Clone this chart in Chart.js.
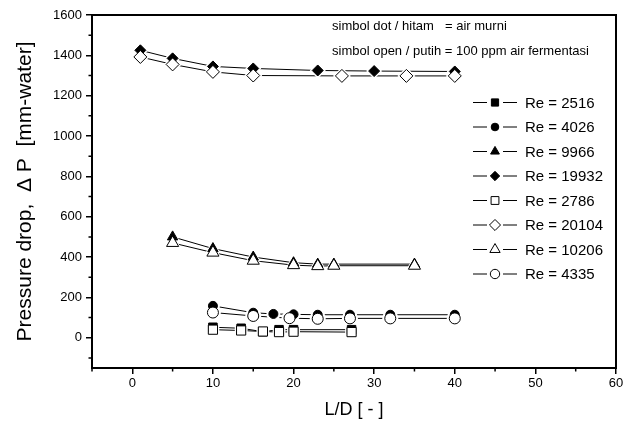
<!DOCTYPE html>
<html>
<head>
<meta charset="utf-8">
<script src="https://cdn.jsdelivr.net/npm/chart.js@4"></script>
<style>body{margin:0;background:#fff}</style>
</head>
<body>
<canvas id="c" width="633" height="425"></canvas>
<script>
// sumbu
const xTicks = [0, 10, 20, 30, 40, 50, 60];
const xMinor = [-5, 5, 15, 25, 35, 45, 55];
const yTicks = [0, 200, 400, 600, 800, 1000, 1200, 1400, 1600];
const yMinor = [-100, 100, 300, 500, 700, 900, 1100, 1300, 1500];

// data [L/D, delta P]
const re2516 = [[10, 52], [13.5, 47], [16.2, 30], [18.2, 40], [20, 40], [27.2, 40]];
const re4026 = [[10, 158], [15, 124], [17.5, 118], [20, 116], [23, 114], [27, 114], [32, 114], [40, 114]];
const re9966 = [[5, 500], [10, 442], [15, 400], [20, 372], [23, 365], [25, 365], [35, 365]];
const re19932 = [[1, 1425], [5, 1385], [10, 1345], [15, 1335], [23, 1325], [30, 1322], [40, 1320]];
const re2786 = [[10, 40], [13.5, 36], [16.2, 31], [18.2, 28], [20, 30], [27.2, 28]];
const re20104 = [[1, 1392], [5, 1355], [10, 1318], [15, 1300], [26, 1298], [34, 1298], [40, 1298]];
const re10206 = [[5, 470], [10, 422], [15, 382], [20, 360], [23, 355], [25, 357], [35, 357]];
const re4335 = [[10, 125], [15, 108], [19.5, 97], [23, 94], [27, 96], [32, 96], [40, 96]];

const FONT = "'Liberation Sans', Arial, sans-serif";
Chart.defaults.font.family = FONT;
Chart.defaults.color = '#000';

const pts = a => a.map(([x, y]) => ({ x, y }));

// urutan legenda
const series = [
  { label: 'Re = 2516', data: re2516, style: 'rect', filled: true, r: 6 },
  { label: 'Re = 4026', data: re4026, style: 'circle', filled: true, r: 4.5 },
  { label: 'Re = 9966', data: re9966, style: 'triangle', filled: true, r: 6 },
  { label: 'Re = 19932', data: re19932, style: 'rectRot', filled: true, r: 5.5 },
  { label: 'Re = 2786', data: re2786, style: 'rect', filled: false, r: 6.5 },
  { label: 'Re = 20104', data: re20104, style: 'rectRot', filled: false, r: 6.5 },
  { label: 'Re = 10206', data: re10206, style: 'triangle', filled: false, r: 7 },
  { label: 'Re = 4335', data: re4335, style: 'circle', filled: false, r: 5.5 }
];

// lapisan: semua garis, celah putih, simbol hitam, lalu simbol open di atas
const datasets = [];
series.forEach(s => {
  datasets.push({
    label: s.label, data: pts(s.data), showLine: true,
    borderColor: '#000', borderWidth: 1, pointRadius: 0, pointHoverRadius: 0,
    order: 4
  });
  datasets.push({
    label: s.label, data: pts(s.data), showLine: false,
    pointStyle: s.style, pointRadius: s.r + 2.5, pointHoverRadius: s.r + 2.5,
    pointBackgroundColor: '#fff', pointBorderWidth: 0, pointBorderColor: '#fff',
    order: 3
  });
  datasets.push({
    label: s.label, data: pts(s.data), showLine: false,
    pointStyle: s.style, pointRadius: s.r, pointHoverRadius: s.r,
    pointBackgroundColor: s.filled ? '#000' : '#fff',
    pointBorderColor: '#000', pointBorderWidth: 1,
    order: s.filled ? 2 : 1
  });
});

const extras = {
  id: 'extras',
  afterDraw(chart) {
    const { ctx, chartArea: a, scales: { x, y } } = chart;
    ctx.save();
    ctx.strokeStyle = '#000';
    ctx.lineWidth = 2;
    ctx.strokeRect(a.left, a.top, a.right - a.left, a.bottom - a.top);

    // minor ticks
    ctx.lineWidth = 1.5;
    ctx.beginPath();
    xMinor.forEach(v => {
      const px = x.getPixelForValue(v);
      ctx.moveTo(px, a.bottom); ctx.lineTo(px, a.bottom + 3.5);
    });
    yMinor.forEach(v => {
      const py = y.getPixelForValue(v);
      ctx.moveTo(a.left, py); ctx.lineTo(a.left - 3.5, py);
    });
    ctx.stroke();

    // keterangan simbol
    ctx.fillStyle = '#000';
    ctx.font = '13px ' + FONT;
    ctx.textBaseline = 'alphabetic';
    ctx.fillText('simbol dot / hitam', 332, 30);
    ctx.fillText('= air murni', 445, 30);
    ctx.fillText('simbol open / putih = 100 ppm air fermentasi', 332, 54.5);

    // legenda
    ctx.font = '15px ' + FONT;
    ctx.textBaseline = 'middle';
    series.forEach((s, i) => {
      const ly = 102.5 + i * 24.5;
      ctx.lineWidth = 1;
      ctx.strokeStyle = '#000';
      ctx.beginPath();
      ctx.moveTo(473, ly); ctx.lineTo(487, ly);
      ctx.moveTo(503, ly); ctx.lineTo(517, ly);
      ctx.stroke();
      ctx.fillStyle = s.filled ? '#000' : '#fff';
      Chart.helpers.drawPoint(ctx, {
        pointStyle: s.style, radius: s.r * 0.85, rotation: 0, borderWidth: 1
      }, 495, ly);
      ctx.fillStyle = '#000';
      ctx.fillText(s.label, 525, ly + 1);
    });
    ctx.restore();
  }
};

new Chart(document.getElementById('c'), {
  type: 'scatter',
  data: { datasets },
  options: {
    responsive: false,
    animation: false,
    layout: { padding: { top: 15, right: 17, left: 0, bottom: 0 } },
    plugins: { legend: { display: false }, tooltip: { enabled: false } },
    scales: {
      x: {
        type: 'linear', min: -5, max: 60,
        afterBuildTicks: s => { s.ticks = xTicks.map(v => ({ value: v })); },
        afterFit: s => { s.height = 57; },
        ticks: { autoSkip: false, maxRotation: 0, padding: 2, font: { size: 13 }, color: '#000', callback: v => String(v) },
        grid: { drawOnChartArea: false, tickLength: 6, color: '#000', lineWidth: 1.5 },
        border: { color: '#000', width: 2 },
        title: { display: true, text: 'L/D [ - ]', font: { size: 18 }, color: '#000', padding: { top: 0, bottom: 4 } }
      },
      y: {
        type: 'linear', min: -150, max: 1600,
        afterBuildTicks: s => { s.ticks = yTicks.map(v => ({ value: v })); },
        afterFit: s => { s.width = 92; },
        ticks: { autoSkip: false, padding: 4, font: { size: 13 }, color: '#000', callback: v => String(v) },
        grid: { drawOnChartArea: false, tickLength: 6, color: '#000', lineWidth: 1.5 },
        border: { color: '#000', width: 2 },
        title: { display: true, text: 'Pressure drop,  \u0394 P  [mm-water]', font: { size: 21 }, color: '#000', padding: { top: 13, bottom: 0 } }
      }
    }
  },
  plugins: [extras]
});
</script>
</body>
</html>
